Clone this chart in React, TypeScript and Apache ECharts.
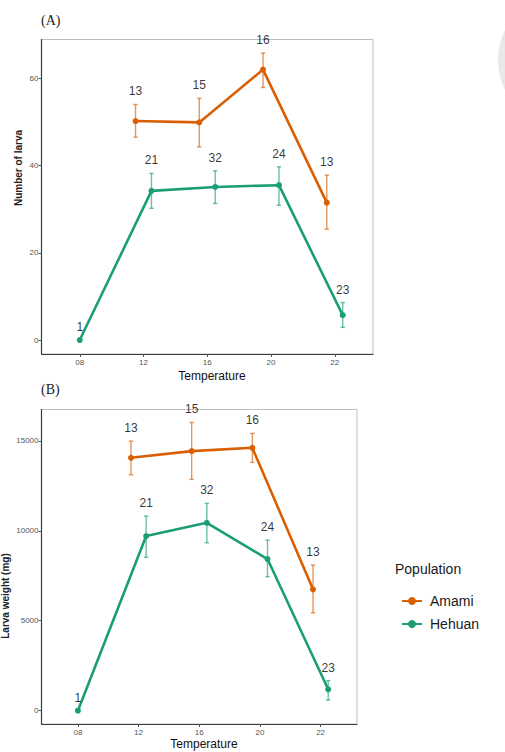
import React, { useEffect, useRef } from "react";
import * as echarts from "echarts";

// Temperature groups shown on both x axes
const categories = ["08", "12", "16", "20", "22"];

// Amami has no 08 group; Hehuan covers all five temperatures
const amamiTempIdx = [1, 2, 3, 4];
const hehuanTempIdx = [0, 1, 2, 3, 4];

// Sample sizes written above each point
const amamiN = [13, 15, 16, 13];
const hehuanN = [1, 21, 32, 24, 23];

// (A) Number of larva: mean with error range
const larvaAmamiMean = [50.2, 49.9, 62.0, 31.5];
const larvaAmamiUpper = [54.0, 55.4, 65.8, 37.8];
const larvaAmamiLower = [46.5, 44.3, 57.9, 25.4];
const larvaHehuanMean = [0, 34.2, 35.1, 35.5, 5.7];
const larvaHehuanUpper = [0, 38.2, 38.8, 39.7, 8.6];
const larvaHehuanLower = [0, 30.2, 31.3, 30.9, 2.9];

// (B) Larva weight (mg): mean with error range
const weightAmamiMean = [14056, 14428, 14611, 6744];
const weightAmamiUpper = [14983, 16022, 15411, 8094];
const weightAmamiLower = [13111, 12856, 13800, 5444];
const weightHehuanMean = [0, 9706, 10444, 8428, 1189];
const weightHehuanUpper = [0, 10817, 11522, 9483, 1667];
const weightHehuanLower = [0, 8522, 9333, 7444, 594];

const larvaTicks = [0, 20, 40, 60];
const weightTicks = [0, 5000, 10000, 15000];

const AMAMI = "#d95f02";
const HEHUAN = "#1b9e77";
const DODGE = 0.125;

// Dodge the two populations where both are present at a temperature
function dodgedX(idx: number, side: number): number {
  const both = amamiTempIdx.includes(idx) && hehuanTempIdx.includes(idx);
  return both ? idx + side * DODGE : idx;
}

function App() {
  const ref = useRef<HTMLDivElement | null>(null);

  useEffect(() => {
    if (!ref.current) return;
    const chart = echarts.init(ref.current, null, { renderer: "svg" });

    const font = "'Liberation Sans', Arial, Helvetica, sans-serif";

    const makeXAxis = (gridIndex: number) => ({
      type: "value" as const,
      gridIndex,
      min: -0.6,
      max: 4.6,
      splitLine: { show: false },
      axisLine: { show: true, onZero: false, lineStyle: { color: "#3c3c3c", width: 1.2 } },
      axisTick: {
        show: true,
        length: 3,
        customValues: categories.map((_, i) => i),
        lineStyle: { color: "#555" },
      },
      axisLabel: {
        customValues: categories.map((_, i) => i),
        formatter: (v: number) => categories[Math.round(v)] ?? "",
        fontSize: 8,
        color: "#555",
        margin: 4,
        fontFamily: font,
      },
    });

    const makeYAxis = (gridIndex: number, min: number, max: number, ticks: number[]) => ({
      type: "value" as const,
      gridIndex,
      min,
      max,
      splitLine: { show: false },
      axisLine: { show: true, onZero: false, lineStyle: { color: "#3c3c3c", width: 1.2 } },
      axisTick: {
        show: true,
        length: 3,
        customValues: ticks,
        lineStyle: { color: "#555" },
      },
      axisLabel: {
        customValues: ticks,
        formatter: (v: number) => String(v),
        fontSize: 8,
        color: "#555",
        margin: 3,
        fontFamily: font,
      },
    });

    const errorBars = (
      name: string,
      color: string,
      idxs: number[],
      side: number,
      lower: number[],
      upper: number[],
      axis: number
    ) => ({
      type: "custom" as const,
      name,
      xAxisIndex: axis,
      yAxisIndex: axis,
      silent: true,
      z: 3,
      itemStyle: { color },
      data: idxs.map((t, i) => [dodgedX(t, side), lower[i], upper[i]]),
      encode: { x: 0, y: [1, 2] },
      renderItem: (_p: any, api: any) => {
        const x = api.value(0);
        const lo = api.coord([x, api.value(1)]);
        const hi = api.coord([x, api.value(2)]);
        const cap = 2.2;
        const style = { stroke: color, lineWidth: 1.4, opacity: 0.65 };
        return {
          type: "group",
          children: [
            { type: "line", shape: { x1: lo[0], y1: lo[1], x2: hi[0], y2: hi[1] }, style },
            { type: "line", shape: { x1: hi[0] - cap, y1: hi[1], x2: hi[0] + cap, y2: hi[1] }, style },
            { type: "line", shape: { x1: lo[0] - cap, y1: lo[1], x2: lo[0] + cap, y2: lo[1] }, style },
          ],
        };
      },
    });

    const meanLine = (
      name: string,
      color: string,
      idxs: number[],
      side: number,
      mean: number[],
      axis: number
    ) => ({
      type: "line" as const,
      name,
      xAxisIndex: axis,
      yAxisIndex: axis,
      z: 4,
      data: idxs.map((t, i) => [dodgedX(t, side), mean[i]]),
      symbol: "circle",
      symbolSize: 6,
      showSymbol: true,
      lineStyle: { color, width: 2.6 },
      itemStyle: { color },
    });

    const countLabels = (
      name: string,
      idxs: number[],
      side: number,
      upper: number[],
      counts: number[],
      axis: number
    ) => ({
      type: "scatter" as const,
      name,
      xAxisIndex: axis,
      yAxisIndex: axis,
      silent: true,
      symbolSize: 0,
      z: 5,
      data: idxs.map((t, i) => [dodgedX(t, side), upper[i], counts[i]]),
      label: {
        show: true,
        position: "top",
        distance: 7,
        formatter: (p: any) => String(p.value[2]),
        fontSize: 12,
        color: "#000",
        fontFamily: font,
      },
    });

    const gridA = { left: 41.5, top: 39.5, width: 331.5, height: 314.5 };
    const gridB = { left: 41.5, top: 409.5, width: 315.5, height: 314.5 };
    const gridStyle = { show: true, borderColor: "#bdbdbd", borderWidth: 1, backgroundColor: "#fff" };

    chart.setOption({
      animation: false,
      backgroundColor: "#ffffff",
      textStyle: { fontFamily: font },
      grid: [
        { ...gridA, ...gridStyle },
        { ...gridB, ...gridStyle },
      ],
      xAxis: [makeXAxis(0), makeXAxis(1)],
      yAxis: [makeYAxis(0, -3.2, 68.9, larvaTicks), makeYAxis(1, -740, 16740, weightTicks)],
      legend: {
        show: true,
        orient: "vertical",
        left: 396,
        top: 589,
        itemWidth: 20,
        itemHeight: 10,
        itemGap: 9,
        data: ["Amami", "Hehuan"],
        textStyle: { fontSize: 14, color: "#1a1a1a", fontFamily: font, padding: [0, 0, 0, 3] },
      },
      graphic: [
        {
          type: "circle",
          shape: { cx: 566, cy: 60, r: 68 },
          style: { fill: "#e8e8e8" },
          silent: true,
        },
        {
          type: "text",
          x: 41,
          y: 20,
          style: { text: "(A)", fontSize: 14, fontFamily: "'Liberation Serif', 'DejaVu Serif', serif", fill: "#222", verticalAlign: "middle" },
        },
        {
          type: "text",
          x: 41,
          y: 389,
          style: { text: "(B)", fontSize: 14, fontFamily: "'Liberation Serif', 'DejaVu Serif', serif", fill: "#222", verticalAlign: "middle" },
        },
        {
          type: "text",
          x: 18,
          y: 168,
          rotation: Math.PI / 2,
          style: { text: "Number of larva", fontSize: 10, fontWeight: "bold", fontFamily: font, fill: "#222", align: "center", verticalAlign: "middle" },
        },
        {
          type: "text",
          x: 5,
          y: 596,
          rotation: Math.PI / 2,
          style: { text: "Larva weight (mg)", fontSize: 10, fontWeight: "bold", fontFamily: font, fill: "#222", align: "center", verticalAlign: "middle" },
        },
        {
          type: "text",
          x: 212,
          y: 376,
          style: { text: "Temperature", fontSize: 12, fontFamily: font, fill: "#111", align: "center", verticalAlign: "middle" },
        },
        {
          type: "text",
          x: 204,
          y: 744,
          style: { text: "Temperature", fontSize: 12, fontFamily: font, fill: "#111", align: "center", verticalAlign: "middle" },
        },
        {
          type: "text",
          x: 395,
          y: 569,
          style: { text: "Population", fontSize: 14, fontFamily: font, fill: "#1a1a1a", verticalAlign: "middle" },
        },
      ],
      series: [
        // (A) — mean lines listed first so the legend takes its icons from them
        meanLine("Amami", AMAMI, amamiTempIdx, -1, larvaAmamiMean, 0),
        meanLine("Hehuan", HEHUAN, hehuanTempIdx, 1, larvaHehuanMean, 0),
        errorBars("Amami", AMAMI, amamiTempIdx, -1, larvaAmamiLower, larvaAmamiUpper, 0),
        errorBars("Hehuan", HEHUAN, hehuanTempIdx, 1, larvaHehuanLower, larvaHehuanUpper, 0),
        countLabels("Amami", amamiTempIdx, -1, larvaAmamiUpper, amamiN, 0),
        countLabels("Hehuan", hehuanTempIdx, 1, larvaHehuanUpper, hehuanN, 0),
        // (B)
        meanLine("Amami", AMAMI, amamiTempIdx, -1, weightAmamiMean, 1),
        meanLine("Hehuan", HEHUAN, hehuanTempIdx, 1, weightHehuanMean, 1),
        errorBars("Amami", AMAMI, amamiTempIdx, -1, weightAmamiLower, weightAmamiUpper, 1),
        errorBars("Hehuan", HEHUAN, hehuanTempIdx, 1, weightHehuanLower, weightHehuanUpper, 1),
        countLabels("Amami", amamiTempIdx, -1, weightAmamiUpper, amamiN, 1),
        countLabels("Hehuan", hehuanTempIdx, 1, weightHehuanUpper, hehuanN, 1),
      ],
    });

    return () => {
      chart.dispose();
    };
  }, []);

  return (
    <div
      ref={ref}
      style={{ position: "absolute", left: 0, top: 0, width: 505, height: 752 }}
    />
  );
}

export default App;
